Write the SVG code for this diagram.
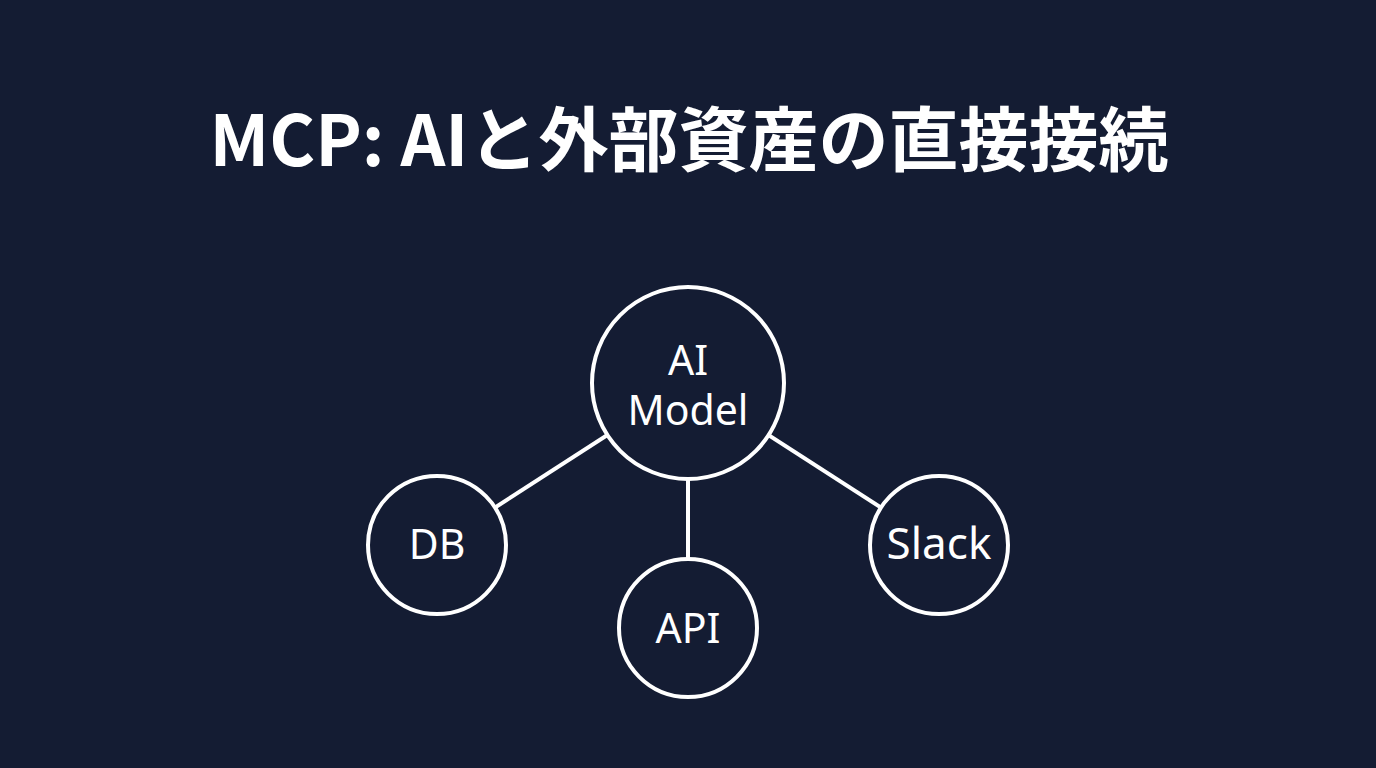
<svg xmlns="http://www.w3.org/2000/svg" width="1376" height="768" viewBox="0 0 1376 768">
  <style>
    .node { fill: #141c33; stroke: #ffffff; stroke-width: 4; }
    .edge { stroke: #ffffff; stroke-width: 4; fill: none; }
    .label { fill: #ffffff; font-family: "Noto Sans", "Noto Sans CJK JP", sans-serif; font-size: 41px; text-anchor: middle; }
    .title { fill: #ffffff; font-family: "Noto Sans CJK JP", "Noto Sans", sans-serif; font-weight: bold; font-size: 70px; text-anchor: middle; }
  </style>
  <rect width="1376" height="768" fill="#141c33"/>
  <text class="title" x="689" y="166">MCP: AIと外部資産の直接接続</text>
  <g id="connectors">
    <line class="edge" x1="688" y1="383" x2="437" y2="545"/>
    <line class="edge" x1="688" y1="383" x2="688" y2="628"/>
    <line class="edge" x1="688" y1="383" x2="939" y2="545"/>
  </g>
  <g id="ai-model">
    <circle class="node" cx="688" cy="383" r="96"/>
    <text class="label" x="688" y="375">AI</text>
    <text class="label" x="688" y="425">Model</text>
  </g>
  <g id="db">
    <circle class="node" cx="437" cy="545" r="69"/>
    <text class="label" x="437" y="559">DB</text>
  </g>
  <g id="api">
    <circle class="node" cx="688" cy="628" r="69"/>
    <text class="label" x="688" y="643">API</text>
  </g>
  <g id="slack">
    <circle class="node" cx="939" cy="545" r="69"/>
    <text class="label" x="939" y="559" style="font-size:44px">Slack</text>
  </g>
</svg>
